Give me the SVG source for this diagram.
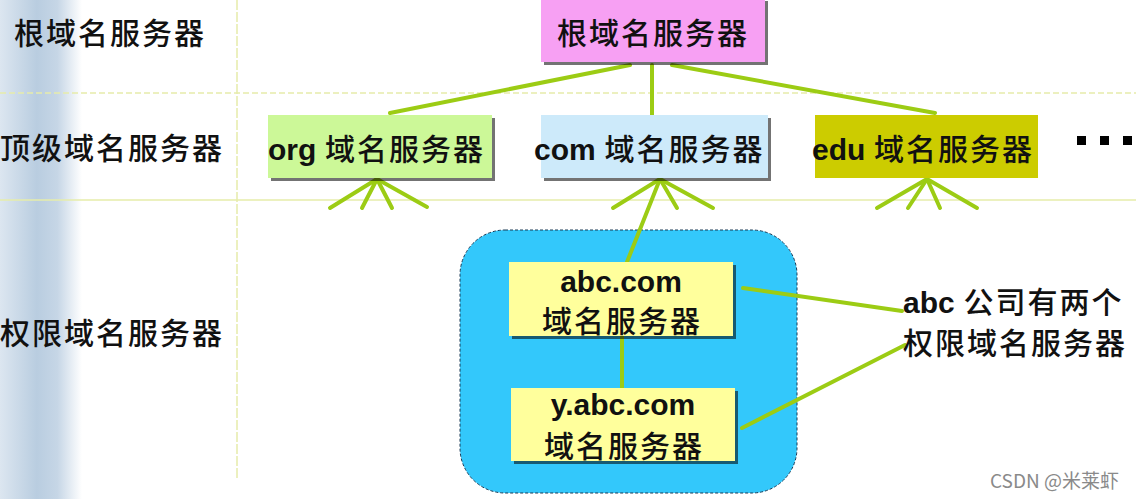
<svg xmlns="http://www.w3.org/2000/svg" width="1136" height="499" viewBox="0 0 1136 499">
<defs>
<linearGradient id="side" x1="0" y1="0" x2="1" y2="0">
<stop offset="0" stop-color="#dce6f0"/>
<stop offset="0.45" stop-color="#b9cde0"/>
<stop offset="0.7" stop-color="#c6d6e6"/>
<stop offset="1" stop-color="#ffffff"/>
</linearGradient>
<filter id="sh" x="-5%" y="-5%" width="115%" height="125%">
<feOffset dx="3" dy="3" in="SourceAlpha" result="o"/>
<feComponentTransfer in="o" result="s"><feFuncA type="linear" slope="0.55"/></feComponentTransfer>
<feMerge><feMergeNode in="s"/><feMergeNode in="SourceGraphic"/></feMerge>
</filter>
</defs>
<style>
.cn{font-family:"Noto Sans CJK SC","Noto Sans",sans-serif;font-size:30px;font-weight:500;letter-spacing:2px;fill:#111;}
.lat{font-family:"Liberation Sans",Arial,sans-serif;font-weight:bold;letter-spacing:0;}
.con{stroke:#9ccc14;stroke-width:4;fill:none;stroke-linecap:round;}
.grid{stroke:#e6ecaa;stroke-width:1.5;fill:none;}
</style>
<rect width="1136" height="499" fill="#ffffff"/>
<rect x="0" y="0" width="82" height="499" fill="url(#side)"/>
<g id="grid">
<line class="grid" x1="0" y1="93" x2="1136" y2="93" stroke-dasharray="6,3"/>
<line class="grid" x1="0" y1="200" x2="1136" y2="200"/>
<line class="grid" x1="237" y1="0" x2="237" y2="480" stroke-dasharray="10,2"/>
</g>
<g id="labels">
<text class="cn" x="14" y="44">根域名服务器</text>
<text class="cn" x="0" y="159">顶级域名服务器</text>
<text class="cn" x="0" y="344">权限域名服务器</text>
</g>
<g id="container">
<rect x="460" y="230" width="337" height="263" rx="45" fill="#33c8fb" stroke="#1a3a55" stroke-width="1" stroke-dasharray="3,2"/>
</g>
<g id="connectors">
<line class="con" x1="630" y1="65" x2="390" y2="113"/>
<line class="con" x1="652" y1="65" x2="652" y2="115"/>
<line class="con" x1="672" y1="65" x2="935" y2="113"/>
<line class="con" x1="377" y1="179" x2="330" y2="208"/>
<line class="con" x1="377" y1="179" x2="362" y2="208"/>
<line class="con" x1="377" y1="179" x2="392" y2="208"/>
<line class="con" x1="377" y1="179" x2="427" y2="207"/>
<line class="con" x1="660" y1="179" x2="613" y2="208"/>
<line class="con" x1="660" y1="179" x2="627" y2="262"/>
<line class="con" x1="660" y1="179" x2="677" y2="208"/>
<line class="con" x1="660" y1="179" x2="713" y2="208"/>
<line class="con" x1="927" y1="179" x2="877" y2="208"/>
<line class="con" x1="927" y1="179" x2="908" y2="208"/>
<line class="con" x1="927" y1="179" x2="940" y2="208"/>
<line class="con" x1="927" y1="179" x2="977" y2="208"/>
<line class="con" x1="622" y1="336" x2="622" y2="388"/>
<line class="con" x1="743" y1="288" x2="902" y2="311"/>
<line class="con" x1="742" y1="428" x2="905" y2="345"/>
</g>
<g id="root">
<rect x="541" y="-2" width="224" height="64" fill="#f7a0f3" filter="url(#sh)"/>
<text class="cn" x="557" y="44">根域名服务器</text>
</g>
<g id="org">
<rect x="268" y="115" width="224" height="63" fill="#ccf898" filter="url(#sh)"/>
<text class="cn" x="268" y="160"><tspan class="lat">org</tspan> 域名服务器</text>
</g>
<g id="com">
<rect x="541" y="115" width="227" height="63" fill="#cdeafa" filter="url(#sh)"/>
<text class="cn" x="534" y="160"><tspan class="lat">com</tspan> 域名服务器</text>
</g>
<g id="edu">
<rect x="815" y="115" width="223" height="63" fill="#cccc00"/>
<text class="cn" x="812" y="160"><tspan class="lat">edu</tspan> 域名服务器</text>
</g>
<g id="more">
<rect x="1077" y="136" width="9" height="9" fill="#000"/>
<rect x="1100" y="136" width="9" height="9" fill="#000"/>
<rect x="1123" y="136" width="9" height="9" fill="#000"/>
</g>
<g id="abc">
<rect x="509" y="262" width="224" height="74" fill="#ffff9c" filter="url(#sh)"/>
<text class="cn lat" x="621" y="292" text-anchor="middle">abc.com</text>
<text class="cn" x="622" y="332" text-anchor="middle">域名服务器</text>
</g>
<g id="yabc">
<rect x="511" y="388" width="224" height="73" fill="#ffff9c" filter="url(#sh)"/>
<text class="cn lat" x="623" y="415" text-anchor="middle">y.abc.com</text>
<text class="cn" x="624" y="457" text-anchor="middle">域名服务器</text>
</g>
<g id="note">
<text class="cn" x="903" y="313"><tspan class="lat">abc</tspan> 公司有两个</text>
<text class="cn" x="903" y="354">权限域名服务器</text>
</g>
<text x="990" y="488" font-family="'Noto Sans CJK SC','Noto Sans',sans-serif" font-size="19" fill="#8a8a8a">CSDN @米莱虾</text>
</svg>
